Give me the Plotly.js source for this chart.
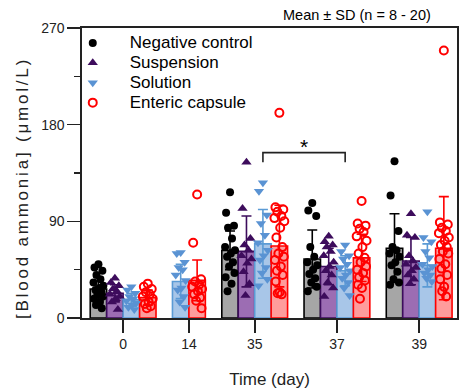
<!DOCTYPE html>
<html><head><meta charset="utf-8">
<script src="https://cdn.plot.ly/plotly-3.0.1.min.js"></script>
<style>
html,body{margin:0;padding:0;background:#fff;}
#chart{width:461px;height:390px;}
.legendtext{font-size:17px !important;}
.ytitle{letter-spacing:2.8px; translate:0px 15px;}
</style></head><body><div id="chart"></div>
<script>
// ---- data ----
const days = ['0', '14', '35', '37', '39'];
const seriesNames = ['Negative control', 'Suspension', 'Solution', 'Enteric capsule'];

const meanNC   = [27, null, 63, 55, 65];
const sdNC     = [11, null, 18, 27, 32];
const meanSusp = [23, null, 62, 48, 53];
const sdSusp   = [8, null, 33, 17, 22];
const meanSol  = [17, 34, 69, 44, 49];
const sdSol    = [6, 16, 32, 14, 20];
const meanEC   = [19, 35, 67, 56, 65];
const sdEC     = [7, 19, 38, 22, 48];

const ptsNC = [
  [50, 47, 44, 40, 36, 33, 30, 28, 26, 24, 22, 20, 18, 15, 12, 9],
  [],
  [117, 98, 86, 84, 74, 66, 63, 60, 57, 52, 48, 42, 38, 32, 25],
  [107, 100, 95, 66, 57, 52, 49, 45, 41, 37, 33, 29, 25],
  [146, 114, 81, 66, 63, 60, 57, 52, 49, 43, 36, 33, 31]
];
const ptsSusp = [
  [37, 33, 30, 27, 25, 22, 20, 18, 15, 8],
  [],
  [145, 102, 74, 68, 63, 58, 55, 51, 43, 32, 21],
  [76, 71, 68, 66, 62, 58, 52, 48, 44, 40, 33, 28, 20],
  [97, 77, 75, 58, 53, 50, 47, 44, 40, 36, 32]
];
const ptsSol = [
  [29, 26, 23, 20, 18, 16, 14, 12, 10, 8],
  [61, 60, 52, 47, 45, 40, 35, 28, 26, 20, 15, 10],
  [126, 118, 96, 88, 77, 70, 63, 58, 54, 47, 42, 36, 30],
  [68, 62, 58, 55, 50, 47, 44, 40, 37, 33, 28, 21],
  [99, 75, 71, 62, 56, 50, 48, 45, 42, 40, 37, 34]
];
const ptsEC = [
  [32, 29, 27, 24, 22, 20, 18, 15, 13, 11, 9],
  [115, 70, 36, 34, 31, 29, 27, 25, 22, 19, 16, 9],
  [191, 103, 101, 99, 95, 93, 90, 84, 75, 66, 60, 57, 54, 48, 44, 40, 34, 24, 23, 22],
  [109, 88, 86, 83, 80, 76, 72, 66, 60, 56, 52, 48, 45, 42, 38, 35, 31, 28, 18],
  [249, 89, 87, 84, 81, 79, 75, 72, 68, 66, 62, 60, 55, 50, 46, 40, 36, 29, 25, 20]
];

const annotationText = 'Mean ± SD (n = 8 - 20)';
const sigLabel = '*';

// ---- layout / style constants ----
const groupPos = [2.5, 6.5, 10.5, 15.5, 20.5];
const barW = 1;
const jitter = [0, -0.24, 0.24, -0.12, 0.12, -0.3, 0.3, 0.05, -0.18, 0.18, -0.06, 0.27, -0.27, 0.09, -0.15, 0.2, -0.22, 0.02, -0.1, 0.14];
const font = 'Liberation Sans, Arial, sans-serif';

const means = [meanNC, meanSusp, meanSol, meanEC];
const sds = [sdNC, sdSusp, sdSol, sdEC];
const pts = [ptsNC, ptsSusp, ptsSol, ptsEC];
const fills = ['#a6a6a6', '#9c6db3', '#a8c6e8', '#ff9c9c'];
const lines = ['#000000', '#3d0c5c', '#5b9bd5', '#ff0000'];
const mColors = ['#000000', '#3d0c5c', '#5a93d3', '#ff0000'];
const symbols = ['circle', 'triangle-up', 'triangle-down', 'circle-open'];
const mSizes = [8, 9, 9, 8];

// bar centre positions per group (missing series take no slot)
const centers = means.map(() => []);
days.forEach((d, g) => {
  const present = means.map((m, s) => m[g] != null ? s : -1).filter(s => s >= 0);
  present.forEach((s, i) => {
    centers[s][g] = groupPos[g] + (i - (present.length - 1) / 2) * barW;
  });
});

const traces = [];
means.forEach((m, s) => {
  const xs = [], ys = [], es = [];
  m.forEach((v, g) => { if (v != null) { xs.push(centers[s][g]); ys.push(v); es.push(sds[s][g]); } });
  traces.push({
    type: 'bar', x: xs, y: ys, width: barW, showlegend: false, hoverinfo: 'skip',
    marker: {color: fills[s], line: {color: lines[s], width: 1.6}},
    error_y: {type: 'data', array: es, visible: true, color: lines[s], thickness: 1.6, width: 5}
  });
});
pts.forEach((p, s) => {
  const xs = [], ys = [];
  p.forEach((arr, g) => arr.forEach((v, i) => { xs.push(centers[s][g] + jitter[i % jitter.length]); ys.push(v); }));
  traces.push({
    type: 'scatter', mode: 'markers', name: seriesNames[s], x: xs, y: ys,
    marker: {symbol: symbols[s], size: mSizes[s], color: mColors[s], line: {color: mColors[s], width: s === 3 ? 2 : 0}}
  });
});

const xa = centers[2][2], xb = centers[2][3];
const brY = 154, brDrop = 9;

const layout = {
  width: 461, height: 390,
  margin: {l: 82, r: 4, t: 28, b: 72},
  paper_bgcolor: '#fff', plot_bgcolor: '#fff',
  font: {family: font, color: '#000', size: 14},
  barmode: 'overlay',
  showlegend: true,
  legend: {x: -0.07, y: 1.0, xanchor: 'left', yanchor: 'top', bgcolor: 'rgba(0,0,0,0)',
           font: {family: font, size: 13, color: '#000'}, itemwidth: 64},
  xaxis: {
    range: [0, 22.8], tickmode: 'array', tickvals: groupPos, ticktext: days,
    showgrid: false, zeroline: false, showline: true, linecolor: '#222', linewidth: 1.6, mirror: true,
    ticks: 'outside', ticklen: 13, tickwidth: 1.6, tickcolor: '#222',
    tickfont: {family: font, size: 14, color: '#222'},
    title: {text: 'Time (day)', font: {family: font, size: 17, color: '#222'}, standoff: 21}
  },
  yaxis: {
    range: [0, 270], tickmode: 'linear', tick0: 0, dtick: 90,
    showgrid: false, zeroline: false, showline: true, linecolor: '#222', linewidth: 1.6, mirror: true,
    ticks: 'outside', ticklen: 13, tickwidth: 1.6, tickcolor: '#222',
    minor: {dtick: 45, ticks: 'outside', ticklen: 6, tickwidth: 1.6, tickcolor: '#222'},
    tickfont: {family: font, size: 14, color: '#222'},
    title: {text: '[Blood ammonia] (μmol/L)', font: {family: font, size: 17, color: '#222'}, standoff: 8}
  },
  shapes: [{
    type: 'path', xref: 'x', yref: 'y',
    path: `M ${xa},${brY - brDrop} L ${xa},${brY} L ${xb},${brY} L ${xb},${brY - brDrop}`,
    line: {color: '#222', width: 1.6}
  }],
  annotations: [
    {text: annotationText, xref: 'paper', yref: 'paper', x: 1, y: 1, xanchor: 'right', yanchor: 'bottom',
     yshift: 3, xshift: -24, showarrow: false, font: {family: font, size: 14.5, color: '#000'}},
    {text: sigLabel, xref: 'x', yref: 'y', x: (xa + xb) / 2, y: brY, yanchor: 'bottom', yshift: -7,
     showarrow: false, font: {family: font, size: 21, color: '#000'}}
  ]
};

Plotly.newPlot('chart', traces, layout, {staticPlot: true, displayModeBar: false});
</script></body></html>
